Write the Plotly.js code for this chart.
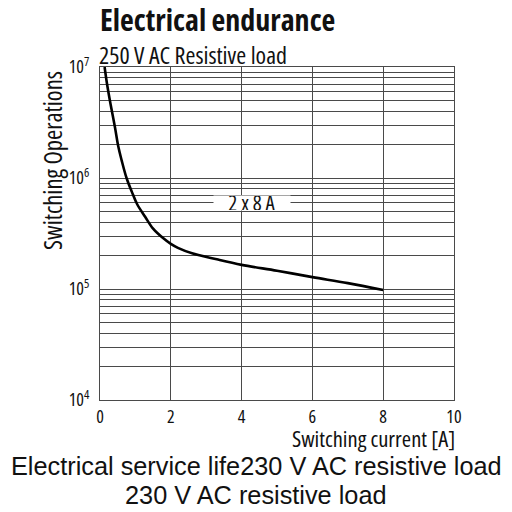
<!DOCTYPE html>
<html>
<head>
<meta charset="utf-8">
<script src="https://cdn.plot.ly/plotly-3.0.1.min.js"></script>
<style>html,body{margin:0;padding:0;background:#fff}#chart{width:512px;height:512px}
text{font-stretch:75% !important}
</style>
</head>
<body>
<div id="chart"></div>
<script>
// Data
const currentA = [0.13, 0.2, 0.3, 0.42, 0.52, 0.61, 0.75, 0.9, 1.05, 1.27, 1.5, 1.79, 2.0, 2.2, 2.6, 3.3, 4, 5, 6, 7, 8];
const operations = [1.0e7, 7.0e6, 4.6e6, 2.9e6, 1.9e6, 1.45e6, 1.0e6, 7.5e5, 5.8e5, 4.5e5, 3.5e5, 2.86e5, 2.55e5, 2.35e5, 2.1e5, 1.85e5, 1.65e5, 1.46e5, 1.28e5, 1.13e5, 0.98e5];
const xTicks = [0, 2, 4, 6, 8, 10];
const yTicks = [1e4, 1e5, 1e6, 1e7];
const yTickText = ['10<sup>4</sup>', '10<sup>5</sup>', '10<sup>6</sup>', '10<sup>7</sup>'];
const seriesLabel = "2 x 8 A";
const labelPos = {x: 4.3, y: 6e5};

const narrow = '"Open Sans", Roboto, sans-serif';
const regular = '"Liberation Sans", Arial, sans-serif';
const grid = '#4a4a4a';

const trace = {
  x: currentA, y: operations, type: 'scatter', mode: 'lines',
  line: {color: '#000', width: 2.6, shape: 'spline', smoothing: 1},
  hoverinfo: 'skip', showlegend: false
};

const layout = {
  width: 512, height: 512,
  margin: {l: 100, r: 58, t: 67, b: 112},
  paper_bgcolor: '#fff', plot_bgcolor: '#fff',
  xaxis: {
    range: [0, 10], tickvals: xTicks, ticktext: xTicks.map(String),
    showgrid: true, gridcolor: grid, gridwidth: 1,
    showline: true, linecolor: grid, linewidth: 1, mirror: true,
    zeroline: false, ticks: '',
    tickfont: {family: narrow, size: 18, color: '#111'}
  },
  yaxis: {
    type: 'log', range: [4, 7], tickvals: yTicks, ticktext: yTickText,
    showgrid: true, gridcolor: grid, gridwidth: 1,
    minor: {dtick: 'D1', showgrid: true, gridcolor: grid, gridwidth: 1, ticks: ''},
    showline: true, linecolor: grid, linewidth: 1, mirror: true,
    zeroline: false, ticks: '', ticklabelstandoff: 6,
    tickfont: {family: narrow, size: 18, color: '#111'}
  },
  annotations: [
    {text: '<b>Electrical endurance</b>', xref: 'paper', yref: 'paper', x: 0, y: 1, yshift: 48,
     xanchor: 'left', yanchor: 'middle', showarrow: false, xshift: -2,
     font: {family: narrow, size: 30, color: '#111'}},
    {text: '250 V AC Resistive load', xref: 'paper', yref: 'paper', x: 0, y: 1, yshift: 13,
     xanchor: 'left', yanchor: 'middle', showarrow: false, xshift: -3,
     font: {family: narrow, size: 24, color: '#111'}},
    {text: 'Switching Operations', xref: 'paper', yref: 'paper', x: 0, xshift: -48, y: 1, yshift: -94,
     xanchor: 'center', yanchor: 'middle', textangle: -90, showarrow: false,
     font: {family: narrow, size: 24.5, color: '#111'}},
    {text: 'Switching current [A]', xref: 'paper', yref: 'paper', x: 1, y: 0, yshift: -38,
     xanchor: 'right', yanchor: 'middle', showarrow: false, xshift: 3,
     font: {family: narrow, size: 22.5, color: '#111'}},
    {text: seriesLabel, x: labelPos.x, y: Math.log10(labelPos.y), xref: 'x', yref: 'y',
     showarrow: false, bgcolor: '#fff', borderpad: 0,
     font: {family: narrow, size: 21, color: '#111'}, width: 76, height: 14},
    {text: 'Electrical service life230 V AC resistive load', xref: 'paper', yref: 'paper',
     x: 0.5, xshift: -21, y: 0, yshift: -66, xanchor: 'center', yanchor: 'middle', showarrow: false,
     font: {family: regular, size: 25.3, color: '#111'}},
    {text: '230 V AC resistive load', xref: 'paper', yref: 'paper',
     x: 0.5, xshift: -21, y: 0, yshift: -95, xanchor: 'center', yanchor: 'middle', showarrow: false,
     font: {family: regular, size: 25.3, color: '#111'}}
  ]
};

Plotly.newPlot('chart', [trace], layout, {displayModeBar: false, staticPlot: true});
</script>
</body>
</html>
